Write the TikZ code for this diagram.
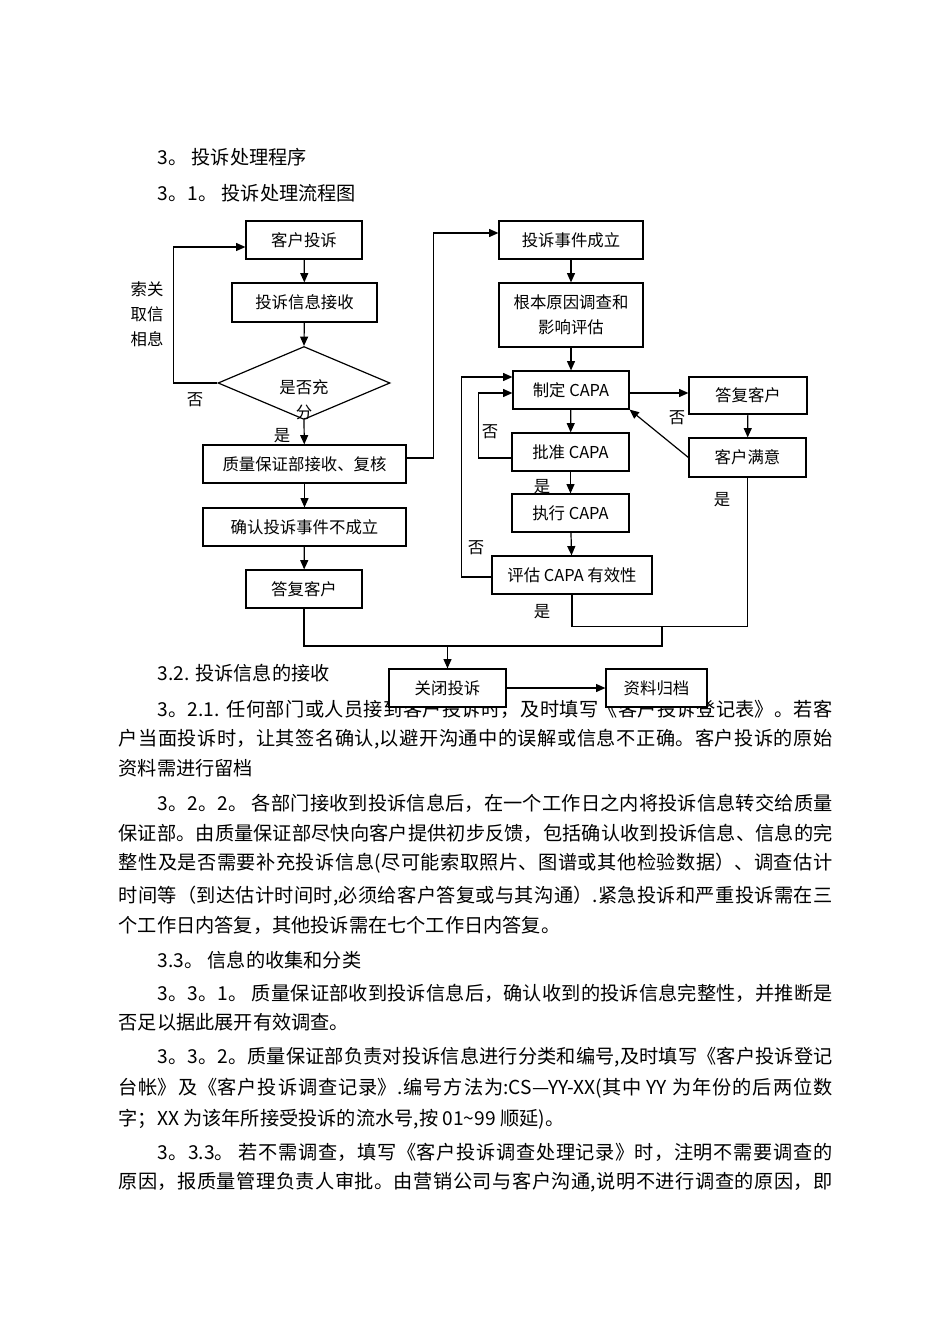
\documentclass[tikz,border=0pt]{standalone}
\usepackage{fontspec}
\usepackage{graphicx}
\setmainfont{Noto Sans CJK SC}
\usetikzlibrary{arrows.meta, shapes.geometric, calc}
\XeTeXlinebreaklocale "zh"
\XeTeXlinebreakskip=0pt plus 2pt
\newlength\px \setlength\px{0.75pt}
\newsavebox\lnbox
\newcommand\boxfont{\fontsize{12.3pt}{18.6pt}\selectfont}
\newcommand\bodyfont{\fontsize{14.4pt}{18pt}\selectfont}
\newcommand\fitln[2]{\sbox\lnbox{#2}\ifdim\wd\lnbox>#1\relax\resizebox{#1}{\height}{#2}\else
  \parbox{#1}{\pretolerance=10000\tolerance=10000\parindent=0pt\parfillskip=0pt #2}\fi}
\newcommand\fullln[1]{\fitln{714\px}{#1}}
\newcommand\indln[1]{\fitln{675\px}{#1}}
\tikzset{
  every picture/.style={line width=0.9pt},
  box/.style={draw, fill=white, inner sep=0pt, minimum height=38\px, align=center, font=\boxfont},
  arr/.style={-{Triangle[length=7pt, width=6pt]}},
  lbl/.style={font=\boxfont, inner sep=0pt, align=center},
  bodyln/.style={anchor=west, inner sep=0pt, font=\bodyfont},
}
\begin{document}
\begin{tikzpicture}[x=0.75pt, y=-0.75pt]
  \fill[white] (0,0) rectangle (950,1344);
  \useasboundingbox (0,0) rectangle (950,1344);
  % headings
  \node[bodyln] (h1) at (157,157) {3。 投诉处理程序};
  \node[bodyln] (h2) at (157,193) {3。1。 投诉处理流程图};
  % text below the chart
  \node[bodyln] (p1) at (157,673) {3.2. 投诉信息的接收};
  \node[bodyln] (p2) at (157,709) {\indln{3。2.1. 任何部门或人员接到客户投诉时，及时填写《客户投诉登记表》。若客}};
  \node[bodyln] (p3) at (118,739) {\fullln{户当面投诉时，让其签名确认,以避开沟通中的误解或信息不正确。客户投诉的原始}};
  \node[bodyln] (p4) at (118,768) {资料需进行留档};
  \node[bodyln] (p5) at (157,803) {\indln{3。2。2。 各部门接收到投诉信息后，在一个工作日之内将投诉信息转交给质量}};
  \node[bodyln] (p6) at (118,833) {\fullln{保证部。由质量保证部尽快向客户提供初步反馈，包括确认收到投诉信息、信息的完}};
  \node[bodyln] (p7) at (118,863) {\fullln{整性及是否需要补充投诉信息(尽可能索取照片、图谱或其他检验数据）、调查估计}};
  \node[bodyln] (p8) at (118,896) {\fullln{时间等（到达估计时间时,必须给客户答复或与其沟通）.紧急投诉和严重投诉需在三}};
  \node[bodyln] (p9) at (118,925) {个工作日内答复，其他投诉需在七个工作日内答复。};
  \node[bodyln] (p10) at (157,960) {3.3。 信息的收集和分类};
  \node[bodyln] (p11) at (157,993) {\indln{3。3。1。 质量保证部收到投诉信息后，确认收到的投诉信息完整性，并推断是}};
  \node[bodyln] (p12) at (118,1022) {否足以据此展开有效调查。};
  \node[bodyln] (p13) at (157,1057) {\indln{3。3。2。质量保证部负责对投诉信息进行分类和编号,及时填写《客户投诉登记}};
  \node[bodyln] (p14) at (118,1088) {\fullln{台帐》及《客户投诉调查记录》.编号方法为:CS—YY-XX(其中 YY 为年份的后两位数}};
  \node[bodyln] (p15) at (118,1119) {字；XX 为该年所接受投诉的流水号,按 01\textasciitilde 99 顺延)。};
  \node[bodyln] (p16) at (157,1152) {\indln{3。3.3。 若不需调查，填写《客户投诉调查处理记录》时，注明不需要调查的}};
  \node[bodyln] (p17) at (118,1182) {\fullln{原因，报质量管理负责人审批。由营销公司与客户沟通,说明不进行调查的原因，即}};
  % left column
  \node[box, minimum width=116\px] (kh) at (304,240) {客户投诉};
  \node[box, minimum width=145\px, minimum height=39\px] (xx) at (304.5,302.5) {投诉信息接收};
  \node[draw, diamond, fill=white, inner sep=0pt, minimum width=172\px, minimum height=73\px] (dia) at (304,383) {};
  \node[lbl] (dtx) at (304,400) {是否充\\分};
  \node[box, minimum width=203\px] (zl) at (304.5,464) {质量保证部接收、复核};
  \node[box, minimum width=203\px] (qr) at (304.5,527) {确认投诉事件不成立};
  \node[box, minimum width=116\px] (df1) at (304,589) {答复客户};
  % right column
  \node[box, minimum width=144\px] (cl) at (571,240) {投诉事件成立};
  \node[box, minimum width=144\px, minimum height=64\px] (gb) at (571,315) {根本原因调查和\\影响评估};
  \node[box, minimum width=116\px] (zd) at (571,390) {制定 CAPA};
  \node[box, minimum width=117\px] (pz) at (570.5,452) {批准 CAPA};
  \node[box, minimum width=117\px] (zx) at (570.5,513) {执行 CAPA};
  \node[box, minimum width=160\px] (pg) at (572,575) {评估 CAPA 有效性};
  \node[box, minimum width=118\px, minimum height=37\px] (df2) at (748,395.5) {答复客户};
  \node[box, minimum width=117\px, minimum height=39\px] (my) at (747.5,457.5) {客户满意};
  % bottom row
  \node[box, minimum width=117\px] (gbt) at (447.5,688) {关闭投诉};
  \node[box, minimum width=101\px] (zlgd) at (656.5,688) {资料归档};
  \coordinate (jn) at (662,626);
  \coordinate (mg) at (447.5,646);
  % connectors
  \draw[arr] (kh) -- (xx);
  \draw[arr] (xx) -- (dia.north);
  \draw[arr] (dia.west) -- ++(-44,0) |- ([yshift=-7\px]kh.west);
  \draw[arr] (dia.south) -- (zl);
  \draw[arr] ([yshift=6\px]zl.east) -- ++(27,0) |- ([yshift=7\px]cl.west);
  \draw[arr] (zl) -- (qr);
  \draw[arr] (qr) -- (df1);
  \draw[arr] (cl) -- (gb);
  \draw[arr] (gb) -- (zd);
  \draw[arr] ([yshift=-3\px]zd.east) -- ([yshift=-3\px]zd.east -| df2.west);
  \draw[arr] (df2) -- (my);
  \draw[arr] (my.west) -- (zd.south east);
  \draw[arr] (zd) -- (pz);
  \draw[arr] ([yshift=-6\px]pz.west) -- ++(-33,0) |- ([yshift=-3\px]zd.west);
  \draw[arr] (pz) -- (zx);
  \draw[arr] (zx) -- (pg);
  \draw[arr] ([yshift=-2\px]pg.west) -- ++(-30,0) |- ([yshift=13\px]zd.west);
  \draw (pg.south) -- ++(0,32) -| (my.south);
  \draw (df1.south) |- (mg) -| (jn);
  \draw[arr] (mg) -- (gbt);
  \draw[arr] (gbt) -- (zlgd);
  % yes / no labels
  \node[lbl] (sq) at (147,314) {索关\\取信\\相息};
  \node[lbl] (n1) at (195,400) {否};
  \node[lbl] (y1) at (282,436) {是};
  \node[lbl] (n2) at (677,418) {否};
  \node[lbl] (n3) at (490,432) {否};
  \node[lbl] (y2) at (542,487) {是};
  \node[lbl] (n4) at (476,548) {否};
  \node[lbl] (y3) at (542,612) {是};
  \node[lbl] (y4) at (722,500) {是};
\end{tikzpicture}
\end{document}
